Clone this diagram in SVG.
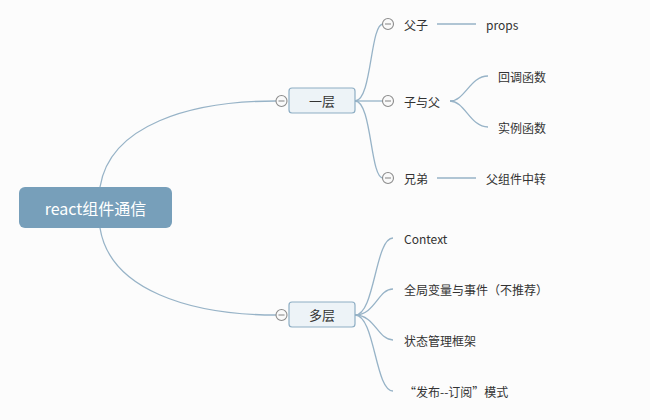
<svg xmlns="http://www.w3.org/2000/svg" width="650" height="420" viewBox="0 0 650 420">
<style>
.ln{fill:none;stroke:#97b3c7;stroke-width:1.3}
.cc{fill:#fafafa;stroke:#8c8c8c;stroke-width:1.1}
.cm{stroke:#8c8c8c;stroke-width:1.1}
.t{font-family:"Noto Sans CJK SC","Liberation Sans",sans-serif;font-size:12px;fill:#333;dominant-baseline:central}
.bx{fill:#edf3f7;stroke:#8eaec4;stroke-width:1.2}
.bt{font-family:"Noto Sans CJK SC",sans-serif;font-size:13px;fill:#333;text-anchor:middle;dominant-baseline:central}
</style>
<rect width="650" height="420" fill="#fcfcfc"/>
<g id="connectors">
<path class="ln" d="M100,187 C110,125 190,101 276,101"/>
<path class="ln" d="M100,228 C110,290 190,315 276,315"/>
<path class="ln" d="M355,101 C372,101 370,24 383,24"/>
<path class="ln" d="M355,101 L383,101"/>
<path class="ln" d="M355,101 C372,101 370,178 383,178"/>
<path class="ln" d="M437,24 L476,24"/>
<path class="ln" d="M437,178 L476,178"/>
<path class="ln" d="M450,101 C465,101 470,76 488,76"/>
<path class="ln" d="M450,101 C465,101 470,127 488,127"/>
<path class="ln" d="M355,315 C375,315 375,238 393,238"/>
<path class="ln" d="M355,315 C375,315 378,289 393,289"/>
<path class="ln" d="M355,315 C375,315 378,340 393,340"/>
<path class="ln" d="M355,315 C375,315 375,391 393,391"/>
</g>
<g id="root">
<rect x="19" y="187" width="153" height="41" rx="6" fill="#779fba"/>
<text x="95.5" y="208" font-family="Noto Sans CJK SC,sans-serif" font-size="16" fill="#fff" text-anchor="middle" dominant-baseline="central">react组件通信</text>
</g>
<g id="yiceng">
<circle class="cc" cx="281.5" cy="101" r="5.5"/><line class="cm" x1="278.5" y1="101" x2="284.5" y2="101"/>
<rect class="bx" x="289" y="88" width="66" height="25" rx="3"/>
<text class="bt" x="322" y="100.5">一层</text>
</g>
<g id="duoceng">
<circle class="cc" cx="281.5" cy="315" r="5.5"/><line class="cm" x1="278.5" y1="315" x2="284.5" y2="315"/>
<rect class="bx" x="289" y="302" width="66" height="25" rx="3"/>
<text class="bt" x="322" y="314.5">多层</text>
</g>
<g id="fuzi">
<circle class="cc" cx="388" cy="24" r="5.5"/><line class="cm" x1="385" y1="24" x2="391" y2="24"/>
<text class="t" x="404" y="24">父子</text>
</g>
<g id="props"><text class="t" x="486" y="24">props</text></g>
<g id="zifu">
<circle class="cc" cx="388" cy="101" r="5.5"/><line class="cm" x1="385" y1="101" x2="391" y2="101"/>
<text class="t" x="404" y="101">子与父</text>
</g>
<g id="huidiao"><text class="t" x="498" y="76">回调函数</text></g>
<g id="shili"><text class="t" x="498" y="127">实例函数</text></g>
<g id="xiongdi">
<circle class="cc" cx="388" cy="178" r="5.5"/><line class="cm" x1="385" y1="178" x2="391" y2="178"/>
<text class="t" x="404" y="178">兄弟</text>
</g>
<g id="zhongzhuan"><text class="t" x="486" y="178">父组件中转</text></g>
<g id="context"><text class="t" x="404" y="238">Context</text></g>
<g id="quanju"><text class="t" x="404" y="289">全局变量与事件（不推荐）</text></g>
<g id="zhuangtai"><text class="t" x="404" y="340">状态管理框架</text></g>
<g id="fabu"><text class="t" x="404" y="391">“发布--订阅”模式</text></g>
</svg>
